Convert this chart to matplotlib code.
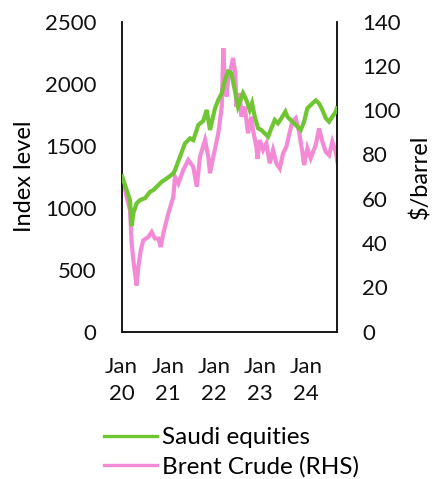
import numpy as np
import pandas as pd
import matplotlib
matplotlib.use("Agg")
import matplotlib.pyplot as plt
from matplotlib.lines import Line2D

plt.rcParams['font.family'] = ['Lato', 'DejaVu Sans']

# Saudi equities (left axis): months since Jan 2020, index level
eq_months = [0.0, 0.26, 1.30, 2.17, 2.61, 3.03, 3.91, 4.77, 6.08, 7.38, 8.24, 9.13, 10.43,
             11.74, 12.6, 13.46, 13.9, 15.2, 16.51, 17.82, 18.68, 19.98, 21.29, 22.17,
             23.03, 24.34, 25.2, 26.09, 26.95, 27.73, 28.59, 29.48, 30.34, 31.64, 32.5,
             33.39, 33.99, 34.7, 35.56, 36.42, 37.3, 38.17, 39.03, 39.91, 40.77, 41.64,
             42.68, 43.2, 44.5, 45.81, 46.7, 47.56, 48.42, 49.72, 50.61, 51.47, 52.33,
             53.22, 54.08, 54.94, 55.83, 56.09]
eq_values = [1222, 1238, 1141, 1060, 850, 955, 1035, 1060, 1076, 1127, 1141, 1168, 1208,
             1235, 1255, 1276, 1302, 1410, 1519, 1559, 1545, 1667, 1700, 1788,
             1626, 1801, 1869, 1923, 2031, 2098, 2085, 1950, 1815, 1923, 1869,
             1788, 1842, 1734, 1640, 1626, 1599, 1572, 1640, 1707, 1680, 1721,
             1774, 1734, 1693, 1653, 1626, 1693, 1801, 1840, 1865, 1840, 1788,
             1721, 1693, 1734, 1774, 1801]

# Brent crude (right axis): months since Jan 2020, $/barrel
oil_months = [0.0, 0.26, 1.30, 2.17, 2.61, 3.03, 3.47, 3.91, 4.33, 4.96, 5.63, 6.94, 7.83,
              8.69, 9.55, 10.17, 10.85, 12.16, 13.46, 13.9, 14.77, 16.07, 17.37, 18.68,
              19.57, 20.43, 21.73, 22.59, 23.03, 23.9, 25.2, 26.09, 26.5, 26.95, 27.39,
              27.73, 28.59, 29.03, 29.63, 29.9, 30.78, 31.2, 32.09, 32.95, 33.81, 34.25,
              35.11, 35.43, 36.0, 36.86, 37.72, 38.61, 39.47, 40.33, 41.22, 42.08, 42.94,
              43.64, 44.5, 45.39, 46.25, 47.11, 47.56, 48.42, 49.3, 50.61, 51.47, 52.33,
              53.22, 54.08, 54.94, 55.83, 56.25]
oil_values = [67, 69, 60.8, 54.8, 39.9, 32.2, 26.3, 20.8, 29.1, 36.7, 41.2, 42.7, 45,
              42, 42, 38.2, 44.3, 53.3, 60.8, 69.9, 66.9, 73, 77.5, 74.4,
              65.4, 79, 86.5, 79, 71.5, 79, 89.6, 101.6, 128, 110, 106.2,
              113.7, 119.8, 123.6, 116.8, 101.6, 107.7, 97.1, 101.6, 89.6, 97.1, 91.1,
              83.5, 78, 86.5, 82, 85, 76, 82, 76, 73.7, 80.5, 83.5,
              88.8, 94.8, 96.4, 90.3, 81.2, 75.2, 82.8, 78.3, 84.3, 91.8, 85.8,
              81.2, 79.7, 85.8, 81.2, 76.7]

tick_years = [2020, 2021, 2022, 2023, 2024]
tick_labels = ["Jan\n20", "Jan\n21", "Jan\n22", "Jan\n23", "Jan\n24"]

start = pd.Timestamp("2020-01-01")
def to_dates(months):
    return start + pd.to_timedelta(np.array(months) * 30.4375, unit="D")

eq_dates = to_dates(eq_months)
oil_dates = to_dates(oil_months)

GREEN = "#6FC632"
PINK = "#F38AD6"
FS = 16
LW = 3.0

fig = plt.figure(figsize=(4.34, 4.79), dpi=100)
ax = fig.add_axes([0.2804, 0.3079, 0.4961, 0.6468])
ax2 = ax.twinx()

ax.plot(eq_dates, eq_values, color=GREEN, lw=LW, zorder=3, solid_joinstyle='miter')
ax2.plot(oil_dates, oil_values, color=PINK, lw=LW, zorder=2, solid_joinstyle='miter')
ax.set_zorder(ax2.get_zorder() + 1)
ax.patch.set_visible(False)

ax.set_ylim(0, 2500)
ax.set_yticks(range(0, 2501, 500))
ax2.set_ylim(0, 140)
ax2.set_yticks(range(0, 141, 20))
ax.set_xlim(start, pd.Timestamp("2024-09-05"))
ax.set_xticks([pd.Timestamp(f"{y}-01-01") for y in tick_years])
ax.set_xticklabels(tick_labels, linespacing=1.45)

for a in (ax, ax2):
    a.spines['top'].set_visible(False)
    for s in ('left', 'right', 'bottom'):
        a.spines[s].set_linewidth(1.1)
        a.spines[s].set_color('#111111')
    a.tick_params(length=0, labelsize=FS, colors='#111111')
ax.tick_params(axis='y', pad=18)
ax2.tick_params(axis='y', pad=18)
ax.tick_params(axis='x', pad=18)

ax.set_ylabel("Index level", fontsize=17, labelpad=7)
ax2.set_ylabel("$/barrel", fontsize=17, labelpad=6)

handles = [Line2D([], [], color=GREEN, lw=2.4), Line2D([], [], color=PINK, lw=2.4)]
fig.legend(handles, ["Saudi equities", "Brent Crude (RHS)"], loc='upper left',
           bbox_to_anchor=(0.2396, 0.108), frameon=False, fontsize=17.5,
           handlelength=2.2, handletextpad=0.18, labelspacing=0.32,
           borderpad=0, borderaxespad=0)

fig.savefig("out.png", dpi=100)
